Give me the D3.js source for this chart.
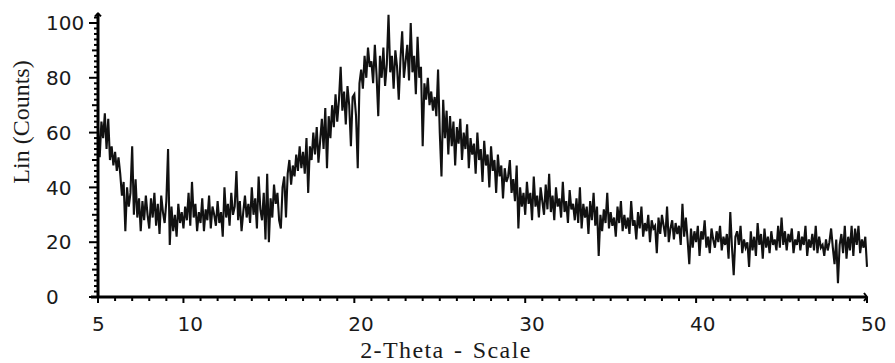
<!DOCTYPE html>
<html>
<head>
<meta charset="utf-8">
<script src="https://cdn.jsdelivr.net/npm/d3@7"></script>
<style>
  body { margin: 0; background: #fff; }
  .tick-label { font-family: 'DejaVu Sans', sans-serif; font-size: 20px; fill: #1a1a1a; }
  .axis-title { font-family: 'Liberation Serif', 'Times New Roman', serif; font-size: 24px; fill: #1a1a1a; }
</style>
</head>
<body>
<div id="chart"></div>
<script>
// 2-theta scan, 5 to 50 deg in 0.1 deg steps
const thetaStart = 5;
const thetaStep = 0.1;

// counts, one row per degree
const counts = [
  62, 51, 64, 58, 67, 54, 65, 50, 55, 48,   // 5
  53, 46, 51, 45, 37, 42, 24, 40, 33, 38,   // 6
  55, 30, 43, 29, 36, 24, 35, 28, 37, 30,   // 7
  25, 36, 29, 38, 26, 34, 23, 37, 31, 27,   // 8
  35, 54, 19, 33, 24, 30, 22, 34, 27, 31,   // 9
  25, 33, 28, 38, 26, 42, 29, 34, 24, 31,   // 10
  27, 36, 24, 32, 28, 37, 25, 33, 30, 26,   // 11
  35, 27, 31, 22, 40, 29, 34, 26, 38, 30,   // 12
  33, 46, 28, 35, 24, 31, 37, 29, 34, 27,   // 13
  40, 30, 36, 25, 44, 32, 28, 38, 21, 45,   // 14
  20, 36, 29, 41, 34, 38, 28, 25, 40, 44,   // 15
  29, 45, 50, 41, 48, 44, 52, 46, 55, 47,   // 16
  53, 45, 58, 38, 55, 50, 60, 52, 62, 49,   // 17
  57, 65, 54, 69, 47, 66, 58, 70, 62, 74,   // 18
  64, 72, 84, 68, 75, 63, 77, 70, 55, 73,   // 19
  74, 66, 47, 78, 83, 76, 88, 80, 91, 84,   // 20
  86, 78, 92, 81, 66, 88, 80, 91, 77, 85,   // 21
  103, 82, 88, 76, 90, 84, 72, 87, 97, 80,  // 22
  86, 92, 79, 100, 82, 88, 74, 95, 80, 84,  // 23
  55, 78, 72, 80, 70, 75, 68, 73, 66, 83,   // 24
  60, 44, 72, 58, 68, 52, 66, 55, 64, 48,   // 25
  62, 56, 65, 50, 60, 54, 63, 47, 58, 52,   // 26
  56, 45, 60, 50, 54, 42, 57, 48, 52, 40,   // 27
  55, 46, 50, 38, 52, 44, 48, 36, 47, 42,   // 28
  44, 50, 38, 43, 35, 48, 25, 40, 33, 38,   // 29
  30, 42, 34, 38, 28, 44, 33, 37, 29, 40,   // 30
  35, 30, 41, 32, 45, 31, 37, 28, 40, 33,   // 31
  36, 29, 42, 31, 35, 27, 39, 32, 34, 28,   // 32
  36, 27, 40, 25, 34, 29, 33, 23, 35, 28,   // 33
  38, 26, 33, 15, 30, 24, 32, 27, 38, 25,   // 34
  31, 26, 29, 22, 33, 27, 35, 24, 30, 25,   // 35
  29, 23, 35, 26, 28, 21, 31, 25, 33, 22,   // 36
  27, 24, 30, 20, 28, 25, 26, 16, 29, 23,   // 37
  30, 26, 22, 33, 20, 25, 28, 21, 27, 23,   // 38
  26, 19, 34, 22, 29, 21, 12, 25, 18, 24,   // 39
  20, 26, 15, 24, 21, 28, 18, 22, 16, 25,   // 40
  21, 18, 24, 20, 26, 17, 22, 19, 23, 14,   // 41
  31, 18, 8, 22, 24, 19, 26, 16, 21, 18,    // 42
  20, 11, 24, 17, 22, 15, 27, 19, 23, 14,   // 43
  25, 18, 22, 16, 24, 19, 21, 17, 26, 18,   // 44
  29, 19, 24, 17, 23, 20, 25, 16, 21, 19,   // 45
  24, 17, 22, 19, 26, 15, 21, 18, 23, 17,   // 46
  26, 16, 22, 18, 19, 15, 21, 17, 20, 25,   // 47
  18, 12, 21, 5, 19, 23, 16, 26, 14, 22,    // 48
  17, 26, 15, 25, 19, 26, 16, 21, 18, 22,   // 49
  11                                        // 50
];

const xTickLabels = [5, 10, 20, 30, 40, 50];
const yTickLabels = [0, 20, 40, 60, 80, 100];

const width = 895, height = 363;

const x = d3.scaleLinear().domain([5, 50]).range([98, 867]);
const y = d3.scaleLinear().domain([0, 100]).range([297, 23]);

const data = counts.map((c, i) => ({theta: thetaStart + i * thetaStep, counts: c}));

const svg = d3.select('#chart').append('svg')
    .attr('width', width)
    .attr('height', height);

// ... trace

const line = d3.line()
    .x(d => x(d.theta))
    .y(d => y(d.counts));

svg.append('path')
    .datum(data)
    .attr('fill', 'none')
    .attr('stroke', '#111')
    .attr('stroke-width', 2.1)
    .attr('stroke-linejoin', 'miter')
    .attr('d', line);

// ... y axis: short ticks every 2, a bit longer every 10, long at labels

const yMinor = d3.range(0, 103, 2);
const x0 = x(5);

svg.append('g')
    .selectAll('line')
    .data(yMinor)
    .enter().append('line')
    .attr('x1', d => x0 - (d % 20 === 0 ? 9 : d % 10 === 0 ? 6 : 4))
    .attr('x2', x0)
    .attr('y1', d => y(d))
    .attr('y2', d => y(d))
    .attr('stroke', '#000')
    .attr('stroke-width', 2);

svg.append('line')
    .attr('x1', x0).attr('x2', x0)
    .attr('y1', y(0) + 1).attr('y2', y(103.5))
    .attr('stroke', '#000').attr('stroke-width', 3);

svg.append('path')
    .attr('d', 'M' + (x0 - 3) + ',' + (y(103.5) + 3) + 'L' + x0 + ',' + y(103.5) + 'L' + (x0 + 3) + ',' + (y(103.5) + 3))
    .attr('fill', 'none').attr('stroke', '#000').attr('stroke-width', 2);

svg.selectAll('.ylab')
    .data(yTickLabels)
    .enter().append('text')
    .attr('class', 'tick-label ylab')
    .attr('x', 46)
    .attr('y', d => y(d))
    .attr('dy', '0.36em')
    .text(d => d);

// ... x axis: minor ticks every degree

const xMinor = d3.range(5, 51, 1);
const y0 = y(0);

svg.append('g')
    .selectAll('line')
    .data(xMinor)
    .enter().append('line')
    .attr('x1', d => x(d))
    .attr('x2', d => x(d))
    .attr('y1', y0)
    .attr('y2', d => y0 + (xTickLabels.includes(d) ? 6 : 4))
    .attr('stroke', '#000')
    .attr('stroke-width', 2);

svg.append('line')
    .attr('x1', x0 - 7).attr('x2', x(50))
    .attr('y1', y0).attr('y2', y0)
    .attr('stroke', '#000').attr('stroke-width', 3);

svg.append('path')
    .attr('d', 'M' + (x(50) - 3) + ',' + (y0 - 4) + 'L' + x(50) + ',' + y0 + 'L' + (x(50) - 3) + ',' + (y0 + 4))
    .attr('fill', 'none').attr('stroke', '#000').attr('stroke-width', 2);

svg.selectAll('.xlab')
    .data(xTickLabels)
    .enter().append('text')
    .attr('class', 'tick-label xlab')
    .attr('x', d => x(d) - 6)
    .attr('y', 331)
    .text(d => d);

// ... axis titles

svg.append('text')
    .attr('class', 'axis-title')
    .attr('transform', 'translate(29,122) rotate(-90)')
    .attr('text-anchor', 'middle')
    .text('Lin (Counts)');

svg.append('text')
    .attr('class', 'axis-title')
    .attr('x', 446)
    .attr('y', 358)
    .attr('text-anchor', 'middle')
    .style('letter-spacing', '1.4px')
    .style('word-spacing', '2px')
    .text('2-Theta - Scale');
</script>
</body>
</html>
